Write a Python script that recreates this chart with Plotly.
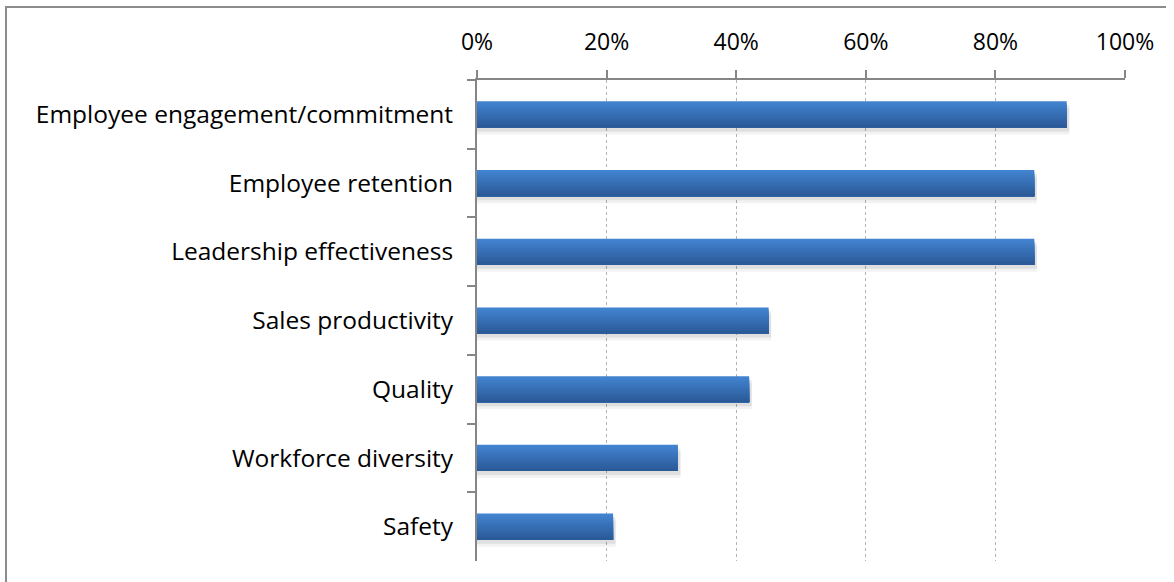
import plotly.graph_objects as go

# Survey results: share of respondents naming each outcome
categories = [
    "Employee engagement/commitment",
    "Employee retention",
    "Leadership effectiveness",
    "Sales productivity",
    "Quality",
    "Workforce diversity",
    "Safety",
]
values = [91, 86, 86, 45, 42, 31, 21]
tick_values = [0, 20, 40, 60, 80, 100]
tick_labels = ["0%", "20%", "40%", "60%", "80%", "100%"]

FONT = "'Open Sans', Lato, sans-serif"
BAR_W = 0.38
SLOT_PX = 481 / 7  # height of one category band in pixels

fig = go.Figure()

# soft drop shadow under each bar (two translucent layers)
for dy, alpha in [(7, 0.05), (4, 0.08)]:
    fig.add_trace(go.Bar(
        x=[v + 0.4 for v in values], y=categories, orientation="h",
        width=BAR_W, offset=-BAR_W / 2 + dy / SLOT_PX,
        marker=dict(color="rgba(0,0,0,%.2f)" % alpha, line=dict(width=0)),
        hoverinfo="skip", showlegend=False,
    ))

# vertical gradient: each slice starts lower and runs to the bar's bottom,
# so later (darker) slices cover the lower part of the earlier ones
n = 14
top = (66, 131, 208)
bot = (43, 90, 152)
for i in range(n):
    t = i / (n - 1)
    c = tuple(round(top[k] + (bot[k] - top[k]) * t) for k in range(3))
    start = i * BAR_W / n
    fig.add_trace(go.Bar(
        x=values, y=categories, orientation="h",
        width=BAR_W - start,
        offset=-BAR_W / 2 + start,
        marker=dict(color="rgb(%d,%d,%d)" % c, line=dict(width=0)),
        showlegend=False,
        hovertemplate="%{y}: %{x}%<extra></extra>",
    ))

fig.update_layout(
    width=1174, height=582,
    margin=dict(l=477, r=49, t=80, b=21),
    paper_bgcolor="white", plot_bgcolor="white",
    barmode="overlay",
    font=dict(family=FONT, size=23, color="#000000"),
    xaxis=dict(
        side="top", range=[0, 100],
        tickvals=tick_values, ticktext=tick_labels,
        tickfont=dict(size=23),
        ticks="outside", ticklen=8, tickwidth=2, tickcolor="#868686",
        ticklabelstandoff=11,
        showline=True, linecolor="#868686", linewidth=2,
        showgrid=True, gridcolor="#b4b4b4", griddash="dot", gridwidth=1,
        zeroline=False, fixedrange=True,
    ),
    yaxis=dict(
        type="category", categoryorder="array", categoryarray=categories,
        autorange="reversed",
        tickson="boundaries",
        tickfont=dict(size=24.5),
        ticks="outside", ticklen=8, tickwidth=2, tickcolor="#868686",
        ticklabelstandoff=17,
        showline=True, linecolor="#868686", linewidth=2,
        showgrid=False, zeroline=False, fixedrange=True,
    ),
    shapes=[
        # outer frame (top and left edges)
        dict(type="line", xref="paper", yref="paper",
             x0=-472 / 648, x1=(1166 - 477) / 648,
             y0=1 + 73 / 481, y1=1 + 73 / 481,
             line=dict(color="#8c8c8c", width=2)),
        dict(type="line", xref="paper", yref="paper",
             x0=-471 / 648, x1=-471 / 648,
             y0=1 + 73 / 481, y1=-21 / 481 - 0.01,
             line=dict(color="#8c8c8c", width=2)),
    ],
)

fig.write_html("out.html")
